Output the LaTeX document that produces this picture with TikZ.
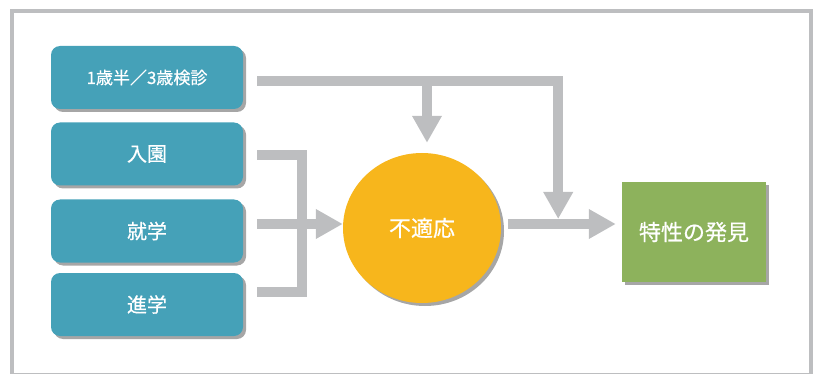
\documentclass[tikz,border=0pt]{standalone}
\usepackage{fontspec}
\newfontfamily\jpfont[FakeBold=0.5]{Noto Sans CJK JP}
\usetikzlibrary{shapes.geometric}
\usetikzlibrary{shadows}
\usetikzlibrary{arrows.meta}
\usetikzlibrary{calc}
\definecolor{stageteal}{RGB}{69,161,184}
\definecolor{misfitorange}{RGB}{247,182,28}
\definecolor{findgreen}{RGB}{141,178,92}
\definecolor{flowgray}{RGB}{189,190,192}
\tikzset{soft shadow/.style={drop shadow={shadow xshift=3pt,shadow yshift=-3pt,fill=black,opacity=.35}}}
\tikzset{stage box/.style={rectangle, rounded corners=9pt, fill=stageteal, text=white, minimum width=192pt, minimum height=63pt, inner sep=0pt, font=\jpfont\fontsize{20}{20}\selectfont, soft shadow}}
\tikzset{flow line/.style={line width=10pt, draw=flowgray}}
\tikzset{flow/.style={flow line, -{Triangle[length=27pt,width=28pt]}}}

\begin{document}
\begin{tikzpicture}[x=1pt,y=-1pt]
   % page and outer frame (bottom edge runs off the page)
   \useasboundingbox (0,0) rectangle (816,374);
   \draw [line width=3.5pt,draw=flowgray] (12,11) rectangle (811,374.5);

   % left column of life stages
   \node [stage box, font=\jpfont\fontsize{17}{17}\selectfont] (kenshin) at (147,77.5) {1歳半／3歳検診};
   \node [stage box] (nyuen) at (147,154) {入園};
   \node [stage box] (shugaku) at (147,231) {就学};
   \node [stage box] (shingaku) at (147,304.5) {進学};

   % misfit circle and finding box
   \node [ellipse, fill=misfitorange, text=white, minimum width=158pt, minimum height=150pt, inner sep=0pt, font=\jpfont\fontsize{22}{22}\selectfont, soft shadow] (futekio) at (422,228) {不適応};
   \node [rectangle, fill=findgreen, text=white, minimum width=144pt, minimum height=100pt, inner sep=0pt, font=\jpfont\fontsize{22}{22}\selectfont, soft shadow] (hakken) at (694,232) {特性の発見};

   % arrows
   \coordinate (top) at ([xshift=14pt,yshift=-3.5pt]kenshin.east);
   \coordinate (tap) at ($(futekio.north |- top)+(5,0)$);
   \draw [flow] (top) -| ([xshift=57pt,yshift=9pt]futekio.east);
   \draw [flow] (tap) -- ([xshift=5pt,yshift=10pt]futekio.north);
   \draw [flow line] ([xshift=14pt,yshift=-1pt]nyuen.east) -- ++(45,0) |- ([xshift=14pt,yshift=12.5pt]shingaku.east);
   \draw [flow] ([xshift=14pt,yshift=7pt]shugaku.east) -- ([yshift=4pt]futekio.west);
   \draw [flow] ([xshift=7pt,yshift=4pt]futekio.east) -- ([xshift=-6pt,yshift=8pt]hakken.west);
\end{tikzpicture}
\end{document}
